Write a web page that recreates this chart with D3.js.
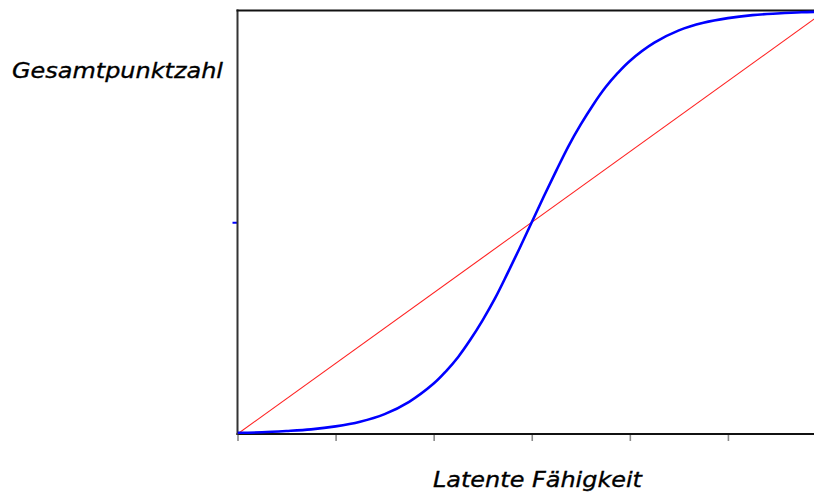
<!DOCTYPE html>
<html>
<head>
<meta charset="utf-8">
<script src="https://cdn.jsdelivr.net/npm/d3@7"></script>
<style>
  html, body { margin: 0; padding: 0; background: #fff; }
  svg { display: block; }
</style>
</head>
<body>
<svg id="chart" width="814" height="498"></svg>
<script>
// Latent ability (x) and expected total score (y, as fraction of max)
const ability = [-3, -2.75, -2.5, -2.25, -2, -1.75, -1.5, -1.25, -1, -0.875, -0.75, -0.625, -0.5, -0.375, -0.25, -0.125, 0,
                 0.125, 0.25, 0.375, 0.5, 0.625, 0.75, 0.875, 1, 1.25, 1.5, 1.75, 2, 2.25, 2.5, 2.75, 3];
const expectedScore = [0.003, 0.004, 0.007, 0.011, 0.018, 0.029, 0.047, 0.076, 0.119, 0.148, 0.182, 0.223, 0.269, 0.32, 0.378, 0.438, 0.5,
                       0.562, 0.622, 0.68, 0.731, 0.777, 0.818, 0.852, 0.881, 0.924, 0.953, 0.971, 0.982, 0.989, 0.993, 0.996, 0.997];
const linearX = [-3, 3];
const linearY = [0, 1];
const xTicks = [-3, -2, -1, 0, 1, 2, 3];
const yTicks = [0.5];
const yLabel = "Gesamtpunktzahl";
const xLabel = "Latente Fähigkeit";

(function () {
const svg = d3.select("#chart");
const W = 814;
const pLeft = 237.5, pRight = 826, pTop = 10.5, pBottom = 434;

const x = d3.scaleLinear().domain([-3, 3]).range([pLeft, pRight]);
const y = d3.scaleLinear().domain([0, 1]).range([pBottom, pTop]);

svg.append("defs").append("clipPath").attr("id", "plot")
  .append("rect").attr("x", pLeft).attr("y", pTop - 2).attr("width", pRight - pLeft).attr("height", pBottom - pTop + 2);

// bottom axis
const xAxis = svg.append("g").attr("transform", `translate(0,${pBottom})`)
  .call(d3.axisBottom(x).tickValues(xTicks).tickSize(7).tickSizeOuter(0).tickFormat(""));
xAxis.select(".domain").remove();
xAxis.selectAll(".tick line").attr("stroke", "#8a8a8a").attr("stroke-width", 1.6);
svg.append("line").attr("x1", pLeft - 1).attr("x2", W).attr("y1", pBottom).attr("y2", pBottom)
  .attr("stroke", "#111").attr("stroke-width", 2.2);

// left axis with single blue tick
const yAxis = svg.append("g").attr("transform", `translate(${pLeft},0)`)
  .call(d3.axisLeft(y).tickValues(yTicks).tickSize(5).tickSizeOuter(0).tickFormat(""));
yAxis.select(".domain").remove();
yAxis.selectAll(".tick line").attr("stroke", "#0000ff").attr("stroke-width", 2);
svg.append("line").attr("x1", pLeft).attr("x2", pLeft).attr("y1", pTop - 1).attr("y2", pBottom + 1)
  .attr("stroke", "#333").attr("stroke-width", 2);

// top border
svg.append("line").attr("x1", pLeft - 1).attr("x2", W).attr("y1", pTop).attr("y2", pTop)
  .attr("stroke", "#111").attr("stroke-width", 2.2);

const g = svg.append("g").attr("clip-path", "url(#plot)");

// red straight line
g.append("path")
  .datum(linearX.map((v, i) => [v, linearY[i]]))
  .attr("d", d3.line().x(d => x(d[0])).y(d => y(d[1])))
  .attr("fill", "none").attr("stroke", "#ff2020").attr("stroke-width", 1.1);

// blue ogive
g.append("path")
  .datum(ability.map((v, i) => [v, expectedScore[i]]))
  .attr("d", d3.line().x(d => x(d[0])).y(d => y(d[1])).curve(d3.curveCatmullRom.alpha(0.5)))
  .attr("fill", "none").attr("stroke", "#0000ff").attr("stroke-width", 2.6);

// labels
const labelStyle = sel => sel
  .attr("lengthAdjust", "spacingAndGlyphs")
  .style("font-family", "'DejaVu Sans', sans-serif").style("font-style", "italic")
  .style("font-size", "22px").attr("fill", "#000")
  .attr("stroke", "#000").attr("stroke-width", 0.35);

svg.append("text").text(yLabel)
  .attr("x", 12).attr("y", 78).attr("textLength", 211).call(labelStyle);

svg.append("text").text(xLabel)
  .attr("x", 433).attr("y", 487).attr("textLength", 209).call(labelStyle);
})();
</script>
</body>
</html>
